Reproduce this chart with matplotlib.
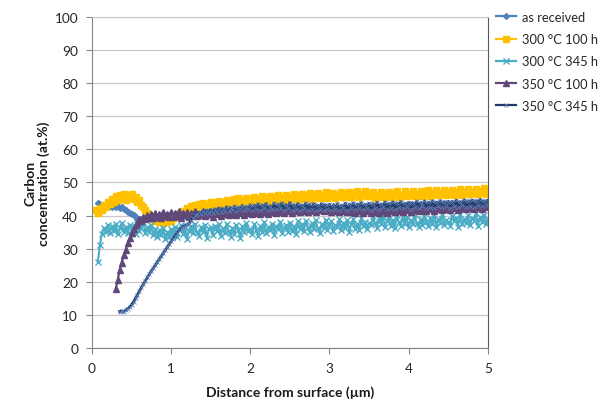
import numpy as np
import matplotlib
matplotlib.use("Agg")
import matplotlib.pyplot as plt

plt.rcParams["font.family"] = ["Lato", "DejaVu Sans"]

nan = np.nan

# depth sampling grid (µm), 0.025 µm steps
depth = np.round(np.arange(1, 201) * 0.025, 3)

series_labels = ["as received", "300 °C 100 h", "300 °C 345 h",
                 "350 °C 100 h", "350 °C 345 h"]

as_received = [
    nan, nan, 43.8, 43.4, 43.0, 42.8, 43.1, 42.6, 42.9, 42.7,
    43.0, 42.5, 42.8, 42.4, 42.6, 42.1, 41.7, 41.2, 40.8, 40.5,
    40.1, 39.6, 39.0, 38.7, 38.9, 39.4, 39.0, 39.6, 39.2, 39.8,
    39.3, 39.9, 39.5, 40.0, 39.4, 40.1, 39.6, 40.2, 39.5, 40.0,
    39.7, 40.3, 39.8, 40.4, 39.9, 40.5, 39.8, 40.4, 40.0, 40.6,
    40.0, 40.7, 40.1, 40.6, 40.2, 40.8, 40.1, 40.7, 40.3, 40.9,
    40.2, 40.9, 40.4, 41.0, 40.3, 40.9, 40.5, 41.1, 40.4, 41.0,
    40.5, 41.2, 40.6, 41.1, 40.7, 41.3, 40.6, 41.2, 40.8, 41.4,
    40.7, 41.3, 40.9, 41.5, 40.8, 41.4, 41.0, 41.6, 40.9, 41.5,
    41.0, 41.7, 41.1, 41.6, 41.2, 41.8, 41.1, 41.7, 41.3, 41.9,
    41.2, 41.8, 41.4, 42.0, 41.3, 41.9, 41.5, 42.1, 41.4, 42.0,
    41.5, 42.2, 41.6, 42.1, 41.7, 42.3, 41.6, 42.2, 41.8, 42.4,
    41.7, 42.3, 41.9, 42.5, 41.8, 42.4, 42.0, 42.6, 41.9, 42.5,
    42.0, 42.7, 42.1, 42.6, 42.2, 42.8, 42.1, 42.7, 42.3, 42.9,
    42.2, 42.8, 42.4, 43.0, 42.3, 42.9, 42.5, 43.1, 42.4, 43.0,
    42.5, 43.2, 42.6, 43.1, 42.7, 43.3, 42.6, 43.2, 42.8, 43.4,
    42.7, 43.3, 42.9, 43.5, 42.8, 43.4, 43.0, 43.6, 42.9, 43.5,
    43.0, 43.7, 43.1, 43.6, 43.2, 43.8, 43.1, 43.7, 43.3, 43.9,
    43.2, 43.8, 43.4, 44.0, 43.3, 43.9, 43.5, 44.1, 43.4, 44.0,
    43.5, 44.2, 43.6, 44.1, 43.7, 44.3, 43.6, 44.2, 43.8, 44.4,
]

c300_100h = [
    nan, 41.6, 40.9, 42.2, 41.8, 43.1, 42.5, 44.0, 43.4, 45.1,
    44.2, 45.8, 44.7, 46.3, 45.0, 46.6, 44.6, 46.1, 45.3, 46.4,
    44.9, 45.7, 44.0, 44.8, 43.1, 42.6, 41.7, 40.9, 40.1, 39.6,
    39.0, 38.5, 38.9, 38.2, 38.7, 37.9, 38.6, 38.1, 38.9, 38.4,
    39.3, 39.9, 39.5, 40.6, 40.8, 41.5, 41.1, 42.2, 42.0, 42.8,
    42.3, 43.2, 42.6, 43.5, 42.9, 43.8, 42.7, 43.6, 43.1, 44.0,
    43.3, 44.2, 43.0, 44.5, 43.6, 44.1, 43.4, 44.7, 43.8, 44.4,
    43.5, 44.9, 44.0, 45.2, 43.7, 44.6, 44.3, 45.4, 43.9, 45.0,
    44.4, 45.6, 44.1, 45.1, 44.7, 45.8, 44.2, 45.3, 44.8, 45.9,
    44.5, 45.5, 44.9, 46.1, 44.6, 45.7, 45.0, 46.2, 44.8, 45.6,
    45.2, 46.4, 44.9, 45.8, 45.4, 46.6, 45.1, 46.0, 45.5, 46.7,
    45.0, 46.3, 45.6, 46.8, 45.3, 46.1, 45.7, 47.0, 45.2, 46.5,
    45.8, 46.9, 45.4, 46.2, 45.9, 47.1, 45.5, 46.4, 46.0, 47.2,
    45.6, 46.7, 46.1, 47.3, 45.7, 46.5, 46.2, 47.4, 45.8, 46.8,
    45.8, 47.0, 45.4, 46.1, 45.9, 47.1, 45.5, 46.4, 46.0, 47.2,
    45.6, 46.5, 46.1, 47.3, 45.7, 46.3, 46.2, 47.4, 45.8, 46.6,
    46.2, 47.4, 45.8, 46.6, 46.3, 47.5, 45.9, 46.7, 46.4, 47.6,
    46.0, 46.8, 46.5, 47.7, 46.1, 46.9, 46.6, 47.8, 46.2, 47.0,
    46.6, 47.8, 46.2, 47.0, 46.7, 47.9, 46.3, 47.1, 46.8, 48.0,
    46.4, 47.2, 46.9, 48.1, 46.5, 47.3, 47.0, 48.2, 46.6, 47.4,
]

c300_345h = [
    nan, nan, 26.0, 31.0, 34.5, 36.3, 35.1, 37.2, 34.6, 36.8,
    35.2, 37.5, 34.3, 36.1, 37.8, 35.0, 36.6, 34.8, 37.1, 35.6,
    36.9, 34.4, 37.6, 35.3, 36.2, 38.0, 34.7, 36.5, 35.0, 37.2,
    34.1, 36.0, 33.4, 35.5, 34.0, 36.3, 32.8, 35.1, 33.6, 35.8,
    34.2, 36.6, 33.5, 35.9, 37.0, 34.3, 36.2, 32.9, 35.4, 36.8,
    34.6, 37.3, 35.0, 33.7, 36.4, 34.9, 37.1, 33.2, 35.8, 36.5,
    34.0, 36.9, 35.2, 37.4, 33.8, 36.1, 34.7, 37.6, 35.3, 33.6,
    36.3, 34.5, 37.2, 35.6, 33.1, 36.7, 34.9, 37.8, 35.4, 36.0,
    34.3, 37.5, 35.7, 33.9, 36.8, 35.1, 38.0, 34.6, 36.4, 35.5,
    37.6, 34.2, 36.9, 35.8, 38.2, 34.8, 36.3, 37.1, 35.0, 37.9,
    35.4, 36.7, 34.5, 38.3, 36.0, 37.4, 35.2, 38.5, 36.6, 34.9,
    37.7, 35.9, 38.6, 36.2, 34.8, 37.5, 36.1, 38.8, 35.6, 37.0,
    38.4, 35.3, 37.2, 36.5, 39.0, 35.7, 37.9, 36.3, 38.7, 35.1,
    37.4, 38.9, 36.0, 37.6, 35.5, 39.2, 36.8, 38.1, 35.9, 37.8,
    37.1, 39.8, 37.7, 36.3, 39.2, 37.4, 40.0, 36.5, 38.4, 39.3,
    36.8, 38.7, 36.1, 40.1, 38.0, 36.9, 39.6, 37.6, 39.7, 36.4,
    38.6, 37.3, 40.2, 37.8, 36.6, 39.1, 37.2, 39.9, 38.2, 36.7,
    39.4, 37.5, 40.3, 36.5, 38.9, 37.9, 40.5, 37.0, 38.7, 38.1,
    36.8, 40.0, 38.3, 39.2, 36.6, 40.4, 37.6, 39.0, 37.7, 40.1,
    37.1, 39.3, 38.5, 40.7, 36.9, 39.6, 38.0, 40.2, 37.4, 38.8,
]

c350_100h = [
    nan, nan, nan, nan, nan, nan, nan, nan, nan, nan,
    nan, 17.8, 20.5, 23.6, 25.8, 28.0, 29.6, 31.7, 33.2, 34.6,
    35.9, 37.2, 37.8, 38.9, 38.5, 39.6, 39.1, 40.3, 39.4, 40.6,
    39.3, 40.8, 39.7, 40.4, 39.2, 41.0, 39.8, 40.5, 39.5, 41.2,
    39.6, 40.9, 39.9, 41.3, 39.4, 40.7, 40.1, 41.1, 39.7, 40.8,
    40.2, 41.4, 39.8, 40.6, 40.3, 41.5, 39.9, 41.0, 40.4, 41.2,
    39.7, 40.9, 40.5, 41.6, 40.0, 40.8, 40.6, 41.7, 40.1, 41.1,
    40.4, 41.8, 40.2, 41.0, 40.7, 41.9, 40.3, 41.3, 40.8, 42.0,
    40.5, 41.4, 40.9, 42.1, 40.4, 41.2, 41.0, 42.2, 40.6, 41.5,
    41.1, 42.3, 40.7, 41.6, 41.2, 42.4, 40.8, 41.7, 41.3, 42.5,
    40.9, 41.8, 41.4, 42.6, 41.0, 41.9, 41.5, 42.7, 41.1, 42.0,
    41.6, 42.8, 41.2, 42.1, 41.7, 42.9, 41.3, 42.2, 41.8, 43.0,
    41.0, 41.9, 41.5, 42.6, 41.1, 41.9, 41.5, 42.6, 41.1, 42.0,
    41.2, 42.3, 40.8, 41.7, 41.3, 42.4, 40.9, 41.8, 41.4, 42.5,
    40.7, 41.6, 41.2, 42.4, 40.8, 41.7, 41.3, 42.5, 40.9, 41.8,
    41.4, 42.6, 41.0, 41.9, 41.5, 42.7, 41.1, 42.0, 41.6, 42.8,
    41.2, 42.1, 41.7, 42.9, 41.3, 42.2, 41.8, 43.0, 41.4, 42.3,
    41.9, 43.1, 41.5, 42.4, 42.0, 43.2, 41.6, 42.5, 42.1, 43.3,
    41.7, 42.6, 42.2, 43.4, 41.8, 42.7, 42.3, 43.5, 41.9, 42.8,
    42.4, 43.6, 42.0, 42.9, 42.5, 43.7, 42.1, 43.0, 42.6, 43.8,
]

c350_345h = [
    nan, nan, nan, nan, nan, nan, nan, nan, nan, nan,
    nan, nan, nan, 11.0, 11.2, 10.9, 11.4, 11.8, 12.3, 13.0,
    13.9, 15.0, 16.1, 17.2, 18.3, 19.3, 20.3, 21.3, 22.3, 23.2,
    24.1, 25.0, 25.9, 26.8, 27.7, 28.6, 29.5, 30.4, 31.3, 32.2,
    33.0, 33.9, 34.7, 35.5, 36.1, 36.6, 37.0, 37.3, 37.5, 38.4,
    39.3, 40.2, 40.6, 41.0, 40.4, 41.3, 40.7, 41.6, 40.9, 41.8,
    40.8, 42.0, 41.2, 42.3, 41.0, 42.1, 41.5, 42.6, 41.3, 42.4,
    41.6, 42.8, 41.4, 42.5, 41.9, 43.0, 41.7, 42.7, 42.1, 43.2,
    41.6, 43.1, 42.0, 43.5, 41.8, 43.2, 42.3, 43.6, 41.7, 43.0,
    42.1, 43.7, 41.9, 43.4, 42.4, 43.8, 41.8, 43.3, 42.2, 43.9,
    41.7, 43.3, 42.1, 43.6, 41.8, 43.2, 42.3, 43.7, 41.8, 43.4,
    41.9, 43.5, 41.7, 43.2, 42.1, 43.6, 41.8, 43.3, 42.0, 43.4,
    41.6, 43.3, 42.1, 43.6, 41.7, 43.1, 42.2, 43.7, 41.8, 43.4,
    42.2, 43.8, 41.9, 43.5, 42.3, 43.9, 42.0, 43.4, 42.4, 43.7,
    41.8, 43.6, 42.4, 44.0, 42.1, 43.5, 42.5, 44.1, 42.0, 43.7,
    42.4, 44.1, 42.1, 43.8, 42.6, 44.2, 42.2, 43.7, 42.5, 43.9,
    42.1, 43.9, 42.7, 44.3, 42.3, 43.8, 42.8, 44.4, 42.2, 44.0,
    42.7, 44.4, 42.4, 44.1, 42.9, 44.5, 42.5, 44.0, 42.8, 44.2,
    42.4, 44.2, 43.0, 44.6, 42.6, 44.1, 43.1, 44.7, 42.5, 44.3,
    43.0, 44.7, 42.7, 44.4, 43.2, 44.8, 42.8, 44.3, 43.1, 44.5,
]

x_ticks = [0, 1, 2, 3, 4, 5]
y_ticks = list(range(0, 101, 10))

styles = [
    dict(color="#4F81BD", marker="D", ms=3.0, mfc="#4F81BD", mec="#4F81BD", lw=1.5),
    dict(color="#FFC000", marker="s", ms=3.8, mfc="#FFC000", mec="#FFC000", lw=1.8),
    dict(color="#4BACC6", marker="x", ms=3.8, mfc="#4BACC6", mec="#4BACC6", lw=1.5, mew=1.0),
    dict(color="#60497A", marker="^", ms=3.8, mfc="#60497A", mec="#60497A", lw=1.6),
    dict(color="#1F3864", marker="x", ms=2.6, mfc="#5F80B8", mec="#5F80B8", lw=2.0, mew=0.6),
]

fig = plt.figure(figsize=(6.09, 4.10), dpi=100)
ax = fig.add_axes([0.151, 0.149, 0.650, 0.807])

data = [as_received, c300_100h, c300_345h, c350_100h, c350_345h]
for values, label, st in zip(data, series_labels, styles):
    values = np.asarray(values, dtype=float)
    assert values.size == depth.size, label
    ax.plot(depth, values, label=label, **st)

ax.set_xlim(0, 5)
ax.set_ylim(0, 100)
ax.set_xticks(x_ticks)
ax.set_yticks(y_ticks)
ax.tick_params(axis="both", labelsize=9.8, colors="#868686", length=4,
               width=0.8, direction="out", pad=6)
ax.tick_params(axis="both", labelcolor="#262626")
ax.yaxis.grid(True, color="#C8C8C8", lw=0.9)
ax.set_axisbelow(True)
for side in ["left", "bottom"]:
    ax.spines[side].set_color("#868686")
ax.spines["right"].set_color("#595959")
ax.spines["top"].set_color("#C8C8C8")

ax.set_xlabel("Distance from surface (µm)", fontsize=10, fontweight="bold",
              color="#1a1a1a", va="center")
ax.xaxis.set_label_coords(0.5, -0.133)
ax.set_ylabel("Carbon\nconcentration (at.%)", fontsize=10, fontweight="bold",
              color="#1a1a1a", linespacing=1.1, va="center")
ax.yaxis.set_label_coords(-0.139, 0.5)

leg = fig.legend(loc="upper left", bbox_to_anchor=(0.814, 0.971),
                 frameon=False, fontsize=9.3, handlelength=1.6,
                 handletextpad=0.4, labelspacing=0.79, markerscale=1.0,
                 borderpad=0, borderaxespad=0)
for t in leg.get_texts():
    t.set_color("#262626")
for h in leg.get_lines():
    h.set_linewidth(1.6)

fig.savefig("out.png", dpi=100)
